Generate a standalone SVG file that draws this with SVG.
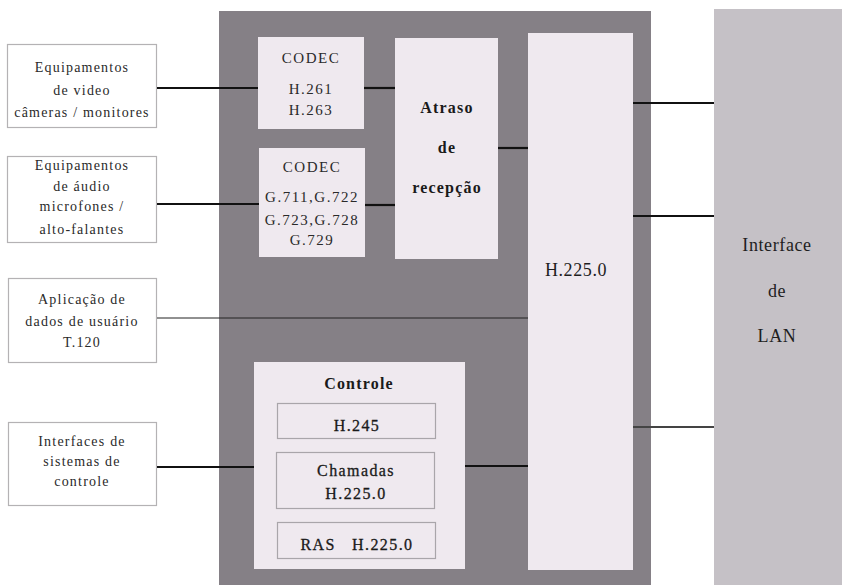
<svg xmlns="http://www.w3.org/2000/svg" width="842" height="585" viewBox="0 0 842 585" font-family="Liberation Serif, Times New Roman, Times, serif">
<style>
.side{fill:#ffffff;stroke:#b4b2b4;stroke-width:1.2}
.inner{fill:#efe9ef}
.sub{fill:#efe9ef;stroke:#a9a5aa;stroke-width:1.2}
text{fill:#2a2a2a;text-anchor:middle}
.s{font-size:14px;letter-spacing:1.2px}
.c{font-size:15px;letter-spacing:1.5px}
.b{font-weight:bold;font-size:16px;letter-spacing:1.2px;fill:#1a1a1a}
.m{font-size:16px;letter-spacing:1.4px;fill:#1a1a1a;stroke:#1a1a1a;stroke-width:0.3}
.big{font-size:18px;letter-spacing:0.6px;fill:#1e1e1e}
.w{stroke:#111;stroke-width:2.2;fill:none}
.n{stroke:#222;stroke-width:1;fill:none}
.g{stroke:#444;stroke-width:2;fill:none}
</style>
<rect width="842" height="585" fill="#ffffff"/>
<g id="terminal">
<rect x="219" y="11" width="432" height="574" fill="#858086"/>
</g>
<g id="lan">
<rect x="714" y="9" width="128" height="576" fill="#c5c1c6"/>
<text class="big" x="777" y="251">Interface</text>
<text class="big" x="777" y="297">de</text>
<text class="big" x="777" y="342">LAN</text>
</g>
<g id="video">
<rect class="side" x="7.5" y="44.5" width="149" height="83"/>
<text class="s" x="82" y="72">Equipamentos</text>
<text class="s" x="82" y="95">de video</text>
<text class="s" x="82" y="117">câmeras / monitores</text>
</g>
<g id="audio">
<rect class="side" x="7.5" y="156.5" width="149" height="86"/>
<text class="s" x="82" y="170">Equipamentos</text>
<text class="s" x="82" y="191">de áudio</text>
<text class="s" x="82" y="211">microfones /</text>
<text class="s" x="82" y="234">alto-falantes</text>
</g>
<g id="dados">
<rect class="side" x="8.5" y="278.5" width="148" height="84"/>
<text class="s" x="82" y="304">Aplicação de</text>
<text class="s" x="82" y="326">dados de usuário</text>
<text class="s" x="82" y="347">T.120</text>
</g>
<g id="controle-sis">
<rect class="side" x="8.5" y="422.5" width="148" height="83"/>
<text class="s" x="82" y="446">Interfaces de</text>
<text class="s" x="82" y="466">sistemas de</text>
<text class="s" x="82" y="486">controle</text>
</g>
<g id="codec-video">
<rect class="inner" x="258" y="37" width="106" height="92"/>
<text class="c" x="311" y="63">CODEC</text>
<text class="c" x="311" y="94">H.261</text>
<text class="c" x="311" y="115">H.263</text>
</g>
<g id="codec-audio">
<rect class="inner" x="259" y="148" width="106" height="109"/>
<text class="c" x="312" y="172">CODEC</text>
<text class="c" x="312" y="202">G.711,G.722</text>
<text class="c" x="312" y="225">G.723,G.728</text>
<text class="c" x="312" y="245">G.729</text>
</g>
<g id="atraso">
<rect class="inner" x="395" y="38" width="103" height="221"/>
<text class="b" x="447" y="113">Atraso</text>
<text class="b" x="447" y="153">de</text>
<text class="b" x="447" y="193">recepção</text>
</g>
<g id="h225">
<rect class="inner" x="528" y="33" width="105" height="537"/>
<text class="big" x="576" y="276">H.225.0</text>
</g>
<g id="controle">
<rect class="inner" x="254" y="362" width="211" height="207"/>
<text class="b" x="359" y="389">Controle</text>
<rect class="sub" x="277.5" y="403.5" width="158" height="35"/>
<text class="m" x="357" y="431">H.245</text>
<rect class="sub" x="276.5" y="452.5" width="158" height="56"/>
<text class="m" x="356" y="476">Chamadas</text>
<text class="m" x="356" y="499">H.225.0</text>
<rect class="sub" x="277.5" y="522.5" width="158" height="36"/>
<text class="m" x="357" y="550" xml:space="preserve">RAS   H.225.0</text>
</g>
<g id="connectors">
<line class="w" x1="157" y1="88" x2="258" y2="88"/>
<line class="w" x1="157" y1="204" x2="259" y2="204"/>
<line class="w" x1="364" y1="88" x2="395" y2="88"/>
<line class="w" x1="365" y1="205" x2="395" y2="205"/>
<line class="w" x1="498" y1="148" x2="528" y2="148"/>
<line class="n" x1="157" y1="318" x2="528" y2="318"/>
<line class="w" x1="157" y1="467" x2="254" y2="467"/>
<line class="w" x1="465" y1="466" x2="528" y2="466"/>
<line class="w" x1="633" y1="103" x2="714" y2="103"/>
<line class="w" x1="633" y1="216" x2="714" y2="216"/>
<line class="g" x1="633" y1="427" x2="714" y2="427"/>
</g>
</svg>
